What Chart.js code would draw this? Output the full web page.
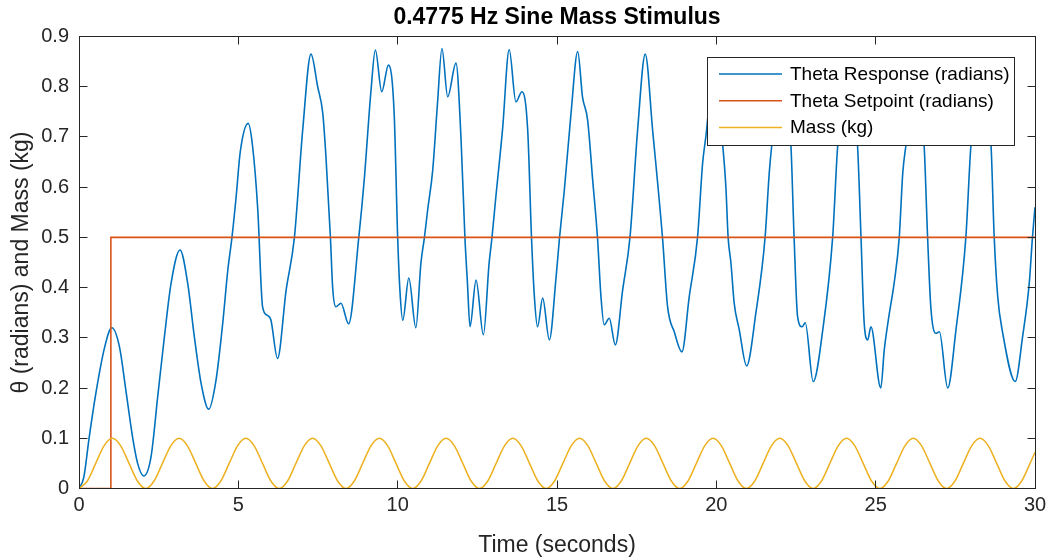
<!DOCTYPE html>
<html>
<head>
<meta charset="utf-8">
<title>0.4775 Hz Sine Mass Stimulus</title>
<script src="https://cdn.jsdelivr.net/npm/chart.js@4.4.1/dist/chart.umd.min.js"></script>
<style>
  html, body { margin: 0; padding: 0; background: #ffffff; }
  #wrap { width: 1052px; height: 560px; position: relative; }
</style>
</head>
<body>
<div id="wrap"><canvas id="chart"></canvas></div>
<script>
// ---- text ----
const chartTitle = '0.4775 Hz Sine Mass Stimulus';
const xTitle = 'Time (seconds)';
const yTitle = 'θ (radians) and Mass (kg)';
const seriesNames = ['Theta Response (radians)', 'Theta Setpoint (radians)', 'Mass (kg)'];

// ---- axis ticks ----
const xTicks = [0, 5, 10, 15, 20, 25, 30];
const xTickLabels = ['0', '5', '10', '15', '20', '25', '30'];
const yTicks = [0, 0.1, 0.2, 0.3, 0.4, 0.5, 0.6, 0.7, 0.8, 0.9];
const yTickLabels = ['0', '0.1', '0.2', '0.3', '0.4', '0.5', '0.6', '0.7', '0.8', '0.9'];

// ---- theta response (s, rad) ----
const thetaTime = [
  0, 0.15, 0.32, 0.53, 0.80, 1.03, 1.27, 1.47, 1.68, 1.84,
  2.03, 2.26, 2.47, 2.68, 2.89, 3.17, 3.41, 3.62, 3.83, 4.07,
  4.30, 4.51, 4.67, 4.80, 4.93, 5.06, 5.31, 5.45, 5.61, 5.76,
  5.90, 6.02, 6.23, 6.50, 6.76, 7.02, 7.28, 7.49, 7.65, 7.75,
  7.89, 7.96, 8.06, 8.22, 8.46, 8.78, 8.95, 9.16, 9.30, 9.50,
  9.71, 9.89, 10.00, 10.07, 10.16, 10.35, 10.57, 10.73, 10.84, 10.94,
  11.10, 11.25, 11.39, 11.57, 11.83, 11.99, 12.11, 12.19, 12.27, 12.46,
  12.69, 12.87, 12.96, 13.08, 13.29, 13.50, 13.71, 13.90, 14.08, 14.20,
  14.29, 14.39, 14.55, 14.76, 14.97, 15.08, 15.23, 15.44, 15.65, 15.80,
  15.96, 16.12, 16.27, 16.38, 16.48, 16.64, 16.83, 17.06, 17.29, 17.53,
  17.77, 18.00, 18.31, 18.47, 18.68, 18.92, 19.15, 19.41, 19.57, 19.67,
  19.93, 20.20, 20.30, 20.37, 20.46, 20.56, 20.72, 20.95, 21.24, 21.53,
  21.66, 21.74, 22.04, 22.34, 22.44, 22.55, 22.69, 22.79, 23.04, 23.34,
  23.65, 23.81, 24.12, 24.43, 24.54, 24.64, 24.75, 24.85, 25.16, 25.27,
  25.43, 25.58, 25.74, 25.85, 25.95, 26.23, 26.52, 26.63, 26.73, 26.89,
  27.00, 27.26, 27.52, 27.83, 27.99, 28.31, 28.62, 28.72, 28.83, 28.98,
  29.38, 29.61, 29.82, 29.92, 30.00
];
const thetaValue = [
  0, 0.022, 0.102, 0.190, 0.280, 0.320, 0.282, 0.196, 0.103, 0.050,
  0.025, 0.063, 0.183, 0.302, 0.409, 0.475, 0.409, 0.302, 0.210, 0.158,
  0.216, 0.329, 0.435, 0.500, 0.580, 0.670, 0.727, 0.680, 0.555, 0.362,
  0.345, 0.336, 0.259, 0.395, 0.500, 0.714, 0.865, 0.800, 0.747, 0.660,
  0.500, 0.400, 0.362, 0.369, 0.328, 0.500, 0.614, 0.790, 0.873, 0.790,
  0.843, 0.747, 0.500, 0.395, 0.335, 0.419, 0.320, 0.449, 0.500, 0.554,
  0.634, 0.767, 0.876, 0.780, 0.847, 0.694, 0.500, 0.409, 0.322, 0.415,
  0.306, 0.449, 0.500, 0.580, 0.714, 0.874, 0.770, 0.790, 0.714, 0.500,
  0.382, 0.322, 0.379, 0.296, 0.420, 0.500, 0.594, 0.747, 0.870, 0.780,
  0.734, 0.614, 0.500, 0.382, 0.326, 0.339, 0.286, 0.395, 0.500, 0.714,
  0.865, 0.714, 0.500, 0.362, 0.312, 0.272, 0.382, 0.500, 0.648, 0.700,
  0.840, 0.684, 0.600, 0.500, 0.448, 0.369, 0.316, 0.244, 0.349, 0.500,
  0.628, 0.684, 0.840, 0.684, 0.500, 0.342, 0.322, 0.330, 0.213, 0.316,
  0.500, 0.684, 0.840, 0.684, 0.500, 0.329, 0.296, 0.322, 0.200, 0.276,
  0.349, 0.409, 0.500, 0.628, 0.684, 0.840, 0.684, 0.500, 0.362, 0.309,
  0.312, 0.200, 0.316, 0.500, 0.684, 0.840, 0.684, 0.500, 0.382, 0.312,
  0.213, 0.302, 0.409, 0.500, 0.560
];

// ---- theta setpoint (s, rad): step at t = 1 s ----
const setpointTime = [0, 1, 1, 30];
const setpointValue = [0, 0, 0.5, 0.5];

// ---- mass (s, kg), eight readings per stimulus cycle ----
const massTime = [
  0, 0.262, 0.524, 0.785, 1.047, 1.309, 1.571, 1.833,
  2.094, 2.356, 2.618, 2.880, 3.142, 3.403, 3.665, 3.927,
  4.189, 4.451, 4.712, 4.974, 5.236, 5.498, 5.760, 6.021,
  6.283, 6.545, 6.807, 7.069, 7.330, 7.592, 7.854, 8.116,
  8.378, 8.639, 8.901, 9.163, 9.425, 9.687, 9.948, 10.210,
  10.472, 10.734, 10.996, 11.257, 11.519, 11.781, 12.043, 12.305,
  12.566, 12.828, 13.090, 13.352, 13.614, 13.875, 14.137, 14.399,
  14.661, 14.923, 15.184, 15.446, 15.708, 15.970, 16.232, 16.493,
  16.755, 17.017, 17.279, 17.541, 17.802, 18.064, 18.326, 18.588,
  18.850, 19.111, 19.373, 19.635, 19.897, 20.159, 20.420, 20.682,
  20.944, 21.206, 21.468, 21.729, 21.991, 22.253, 22.515, 22.777,
  23.038, 23.300, 23.562, 23.824, 24.086, 24.347, 24.609, 24.871,
  25.133, 25.395, 25.656, 25.918, 26.180, 26.442, 26.704, 26.965,
  27.227, 27.489, 27.751, 28.013, 28.274, 28.536, 28.798, 29.060,
  29.322, 29.583, 29.845, 30.000
];
const massValue = [
  0, 0.015, 0.05, 0.085, 0.1, 0.085, 0.05, 0.015,
  0, 0.015, 0.05, 0.085, 0.1, 0.085, 0.05, 0.015,
  0, 0.015, 0.05, 0.085, 0.1, 0.085, 0.05, 0.015,
  0, 0.015, 0.05, 0.085, 0.1, 0.085, 0.05, 0.015,
  0, 0.015, 0.05, 0.085, 0.1, 0.085, 0.05, 0.015,
  0, 0.015, 0.05, 0.085, 0.1, 0.085, 0.05, 0.015,
  0, 0.015, 0.05, 0.085, 0.1, 0.085, 0.05, 0.015,
  0, 0.015, 0.05, 0.085, 0.1, 0.085, 0.05, 0.015,
  0, 0.015, 0.05, 0.085, 0.1, 0.085, 0.05, 0.015,
  0, 0.015, 0.05, 0.085, 0.1, 0.085, 0.05, 0.015,
  0, 0.015, 0.05, 0.085, 0.1, 0.085, 0.05, 0.015,
  0, 0.015, 0.05, 0.085, 0.1, 0.085, 0.05, 0.015,
  0, 0.015, 0.05, 0.085, 0.1, 0.085, 0.05, 0.015,
  0, 0.015, 0.05, 0.085, 0.1, 0.085, 0.05, 0.015,
  0, 0.015, 0.05, 0.072
];

const seriesColors = ['#0072BD', '#D95319', '#EDB120'];
const FONT = "'Liberation Sans', Arial, Helvetica, sans-serif";
const AXIS_COLOR = '#262626';

const toPoints = (ts, vs) => ts.map((t, i) => ({ x: t, y: vs[i] }));

// Box around the axes with inward ticks, plus the boxed legend in the upper right.
const axesBoxAndLegend = {
  id: 'axesBoxAndLegend',
  afterDatasetsDraw(chart) {
    const { ctx, chartArea: a, scales } = chart;
    const L = Math.floor(a.left) + 0.5, R = Math.floor(a.right) + 0.5;
    const T = Math.floor(a.top) + 0.5, B = Math.floor(a.bottom) + 0.5;
    const tick = 8;
    ctx.save();
    ctx.strokeStyle = AXIS_COLOR;
    ctx.lineWidth = 1;
    ctx.strokeRect(L, T, R - L, B - T);
    ctx.beginPath();
    xTicks.forEach(v => {
      const px = Math.floor(scales.x.getPixelForValue(v)) + 0.5;
      ctx.moveTo(px, B); ctx.lineTo(px, B - tick);
      ctx.moveTo(px, T); ctx.lineTo(px, T + tick);
    });
    yTicks.forEach(v => {
      const py = Math.floor(scales.y.getPixelForValue(v)) + 0.5;
      ctx.moveTo(L, py); ctx.lineTo(L + tick, py);
      ctx.moveTo(R, py); ctx.lineTo(R - tick, py);
    });
    ctx.stroke();

    // legend
    const bx = 707.5, by = 57.5, bw = 307, bh = 88;
    ctx.fillStyle = '#ffffff';
    ctx.fillRect(bx, by, bw, bh);
    ctx.strokeStyle = AXIS_COLOR;
    ctx.lineWidth = 1;
    ctx.strokeRect(bx, by, bw, bh);
    ctx.font = '19px ' + FONT;
    ctx.textBaseline = 'middle';
    ctx.textAlign = 'left';
    chart.data.datasets.forEach((ds, i) => {
      const cy = 74 + i * 26.8;
      ctx.strokeStyle = ds.borderColor;
      ctx.lineWidth = ds.borderWidth;
      ctx.beginPath();
      ctx.moveTo(719, cy);
      ctx.lineTo(782, cy);
      ctx.stroke();
      ctx.fillStyle = '#000000';
      ctx.fillText(ds.label, 790, cy + 0.5);
    });
    ctx.restore();
  }
};

new Chart(document.getElementById('chart'), {
  type: 'line',
  data: {
    datasets: [
      {
        label: seriesNames[0],
        data: toPoints(thetaTime, thetaValue),
        borderColor: seriesColors[0],
        borderWidth: 1.6,
        pointRadius: 0,
        cubicInterpolationMode: 'monotone',
        order: 3
      },
      {
        label: seriesNames[1],
        data: toPoints(setpointTime, setpointValue),
        borderColor: seriesColors[1],
        borderWidth: 1.6,
        pointRadius: 0,
        tension: 0,
        order: 2
      },
      {
        label: seriesNames[2],
        data: toPoints(massTime, massValue),
        borderColor: seriesColors[2],
        borderWidth: 1.5,
        pointRadius: 0,
        cubicInterpolationMode: 'monotone',
        order: 1
      }
    ]
  },
  options: {
    responsive: true,
    maintainAspectRatio: false,
    animation: false,
    events: [],
    layout: { padding: { left: 0, right: 17, top: 0, bottom: 0 } },
    plugins: {
      legend: { display: false },
      tooltip: { enabled: false },
      title: {
        display: true,
        text: chartTitle,
        fullSize: false,
        color: '#000000',
        font: { family: FONT, size: 23, weight: 'bold', lineHeight: 1.2 },
        padding: { top: 4, bottom: 4.9 }
      }
    },
    scales: {
      x: {
        type: 'linear',
        min: 0,
        max: 30,
        grid: { display: false, drawTicks: false },
        border: { display: false },
        afterBuildTicks: s => { s.ticks = xTicks.map(v => ({ value: v })); },
        afterFit: s => { s.height = 71.5; },
        ticks: {
          padding: 4.5,
          autoSkip: false,
          maxRotation: 0,
          color: AXIS_COLOR,
          font: { family: FONT, size: 20 },
          callback: (v, i) => xTickLabels[i]
        },
        title: {
          display: true,
          text: xTitle,
          color: AXIS_COLOR,
          font: { family: FONT, size: 23, lineHeight: 1.2 },
          padding: { top: 0, bottom: 1 }
        }
      },
      y: {
        type: 'linear',
        min: 0,
        max: 0.9,
        grid: { display: false, drawTicks: false },
        border: { display: false },
        afterBuildTicks: s => { s.ticks = yTicks.map(v => ({ value: v })); },
        afterFit: s => { s.width = 79; },
        ticks: {
          padding: 10,
          autoSkip: false,
          color: AXIS_COLOR,
          font: { family: FONT, size: 20 },
          callback: (v, i) => yTickLabels[i]
        },
        title: {
          display: true,
          text: yTitle,
          color: AXIS_COLOR,
          font: { family: FONT, size: 23, lineHeight: 1.2 },
          padding: { top: 8, bottom: 0 }
        }
      }
    }
  },
  plugins: [axesBoxAndLegend]
});
</script>
</body>
</html>
